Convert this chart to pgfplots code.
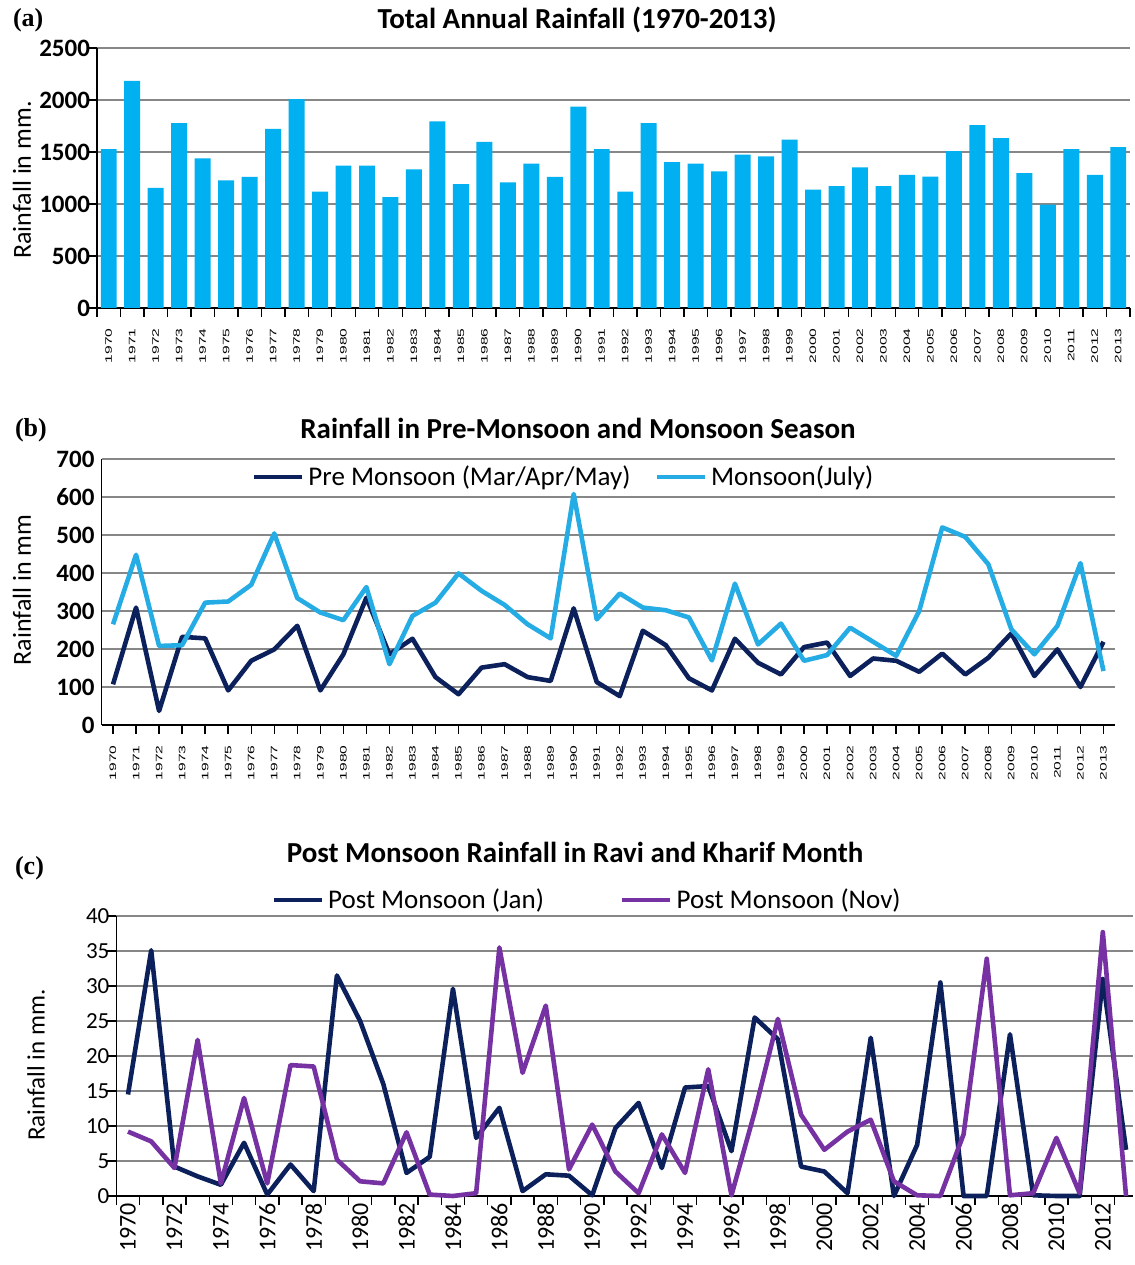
\documentclass[border=0pt]{standalone}
\usepackage{fontspec}
\setmainfont{Carlito}
\newfontfamily\serifb{Liberation Serif}
\newfontfamily\arialf{Liberation Sans}
\usepackage{pgfplots}
\usepackage{pgfplotstable}
\pgfplotsset{compat=1.18}
\definecolor{barblue}{RGB}{0,176,240}
\definecolor{lineblue}{RGB}{38,172,228}
\definecolor{navy}{RGB}{12,33,92}
\definecolor{purp}{RGB}{118,50,162}
\definecolor{gridgray}{RGB}{135,135,135}

\pgfplotstableread{
year val
1970 1528
1971 2183
1972 1154
1973 1777
1974 1439
1975 1228
1976 1260
1977 1723
1978 2008
1979 1119
1980 1368
1981 1368
1982 1065
1983 1333
1984 1794
1985 1192
1986 1598
1987 1208
1988 1387
1989 1260
1990 1937
1991 1528
1992 1119
1993 1777
1994 1403
1995 1387
1996 1314
1997 1474
1998 1458
1999 1618
2000 1138
2001 1173
2002 1352
2003 1173
2004 1279
2005 1263
2006 1509
2007 1758
2008 1634
2009 1298
2010 994
2011 1528
2012 1279
2013 1547
}\dataA

\pgfplotstableread{
year pre mon
1970 107 265
1971 309 448
1972 37 208
1973 232 210
1974 228 322
1975 91 325
1976 169 369
1977 199 504
1978 261 334
1979 91 296
1980 186 276
1981 335 363
1982 186 160
1983 227 287
1984 126 322
1985 81 399
1986 151 353
1987 160 316
1988 126 265
1989 116 228
1990 307 608
1991 113 278
1992 76 346
1993 248 309
1994 210 302
1995 123 283
1996 91 170
1997 227 372
1998 164 212
1999 133 267
2000 205 169
2001 217 184
2002 129 256
2003 175 219
2004 169 182
2005 140 300
2006 188 520
2007 133 495
2008 177 423
2009 241 252
2010 129 186
2011 199 261
2012 100 426
2013 219 142
}\dataB

\pgfplotstableread{
year jan nov
1970 14.5 9.2
1971 35.1 7.8
1972 4.2 4.0
1973 2.8 22.3
1974 1.6 1.8
1975 7.6 14.0
1976 0.2 1.8
1977 4.5 18.7
1978 0.7 18.5
1979 31.5 5.2
1980 25.0 2.1
1981 16.0 1.8
1982 3.3 9.1
1983 5.6 0.2
1984 29.6 0.0
1985 8.3 0.4
1986 12.6 35.5
1987 0.7 17.6
1988 3.1 27.2
1989 2.9 3.8
1990 0.1 10.2
1991 9.7 3.5
1992 13.3 0.4
1993 4.0 8.8
1994 15.5 3.3
1995 15.7 18.1
1996 6.4 0.1
1997 25.5 12.0
1998 22.4 25.3
1999 4.2 11.6
2000 3.5 6.6
2001 0.4 9.2
2002 22.6 10.9
2003 0.0 2.1
2004 7.3 0.1
2005 30.5 0.0
2006 0.0 8.8
2007 0.0 33.9
2008 23.1 0.1
2009 0.1 0.4
2010 0.0 8.3
2011 0.0 0.4
2012 31.0 37.7
2013 6.6 0.0
}\dataC

\pgfplotsset{
  base/.style={
    scale only axis, anchor=south west,
    axis lines*=left,
    axis line style={black, line width=0.9pt},
    ymajorgrids, grid style={gridgray, line width=0.7pt},
    /pgf/number format/assume math mode=true,
    /pgf/number format/1000 sep={},
    tick style={black, line width=0.7pt},
    tick align=outside,
    major tick length=0pt, minor tick length=4.5pt,
    clip=false, xmin=1969.5, xmax=2013.5,
  },
  smallyears/.style={
    xticklabel style={rotate=90, yscale=0.6, anchor=east, inner xsep=10pt, inner ysep=0pt,
      font=\arialf\fontsize{7.8}{7.8}\selectfont},
  },
}

\begin{document}
\begin{tikzpicture}
\useasboundingbox (0,0) rectangle (567.5pt,632.5pt);

% (a)
\begin{axis}[base, smallyears, at={(48.5pt,478.5pt)}, width=516.5pt, height=130pt,
  ymin=0, ymax=2500, ytick={0,500,...,2500}, minor ytick={0,500,...,2500},
  xtick={1970,...,2013}, minor xtick={1969.5,1970.5,...,2013.5},
  yticklabel style={font=\bfseries\fontsize{12.5}{12.5}\selectfont}]
\addplot[ybar, bar width=0.68, fill=barblue, draw=none] table[x=year,y=val] {\dataA};
\end{axis}

% (b)
\begin{axis}[base, smallyears, at={(50.75pt,270pt)}, width=506.75pt, height=133pt,
  ymin=0, ymax=700, ytick={0,100,...,700},
  xtick={1970,...,2013}, minor xtick={1970,...,2013},
  yticklabel style={font=\bfseries\fontsize{12.5}{12.5}\selectfont},
  legend style={at={(0.457,0.932)}, anchor=center, draw=none, fill=none, inner sep=0pt,
    font=\fontsize{13.5}{14}\selectfont, legend columns=2,
    /tikz/every even column/.append style={column sep=10pt}},
  legend cell align=left,
  legend image code/.code={\draw[#1] (0pt,0pt) -- (24pt,0pt);}]
\addplot[navy, line width=2.3pt, line join=round] table[x=year,y=pre] {\dataB};
\addlegendentry{Pre Monsoon (Mar/Apr/May)}
\addplot[lineblue, line width=2.3pt, line join=round] table[x=year,y=mon] {\dataB};
\addlegendentry{Monsoon(July)}
\end{axis}

% (c)
\begin{axis}[base, at={(58.2pt,34.5pt)}, width=508.3pt, height=140pt, xmax=2013.3,
  ymin=0, ymax=40, ytick={0,5,...,40}, minor ytick={0,5,...,40},
  xtick={1970,1972,...,2012}, minor xtick={1969.5,1970.5,...,2012.5},
  xticklabel style={rotate=90, anchor=east, font=\fontsize{12}{12}\selectfont},
  yticklabel style={font=\fontsize{11.5}{12}\selectfont},
  legend style={at={(0.464,1)}, anchor=center, yshift=8pt, draw=none, fill=none, inner sep=0pt,
    font=\fontsize{13.5}{14}\selectfont, legend columns=2,
    /tikz/every even column/.append style={column sep=36pt}},
  legend cell align=left,
  legend image code/.code={\draw[#1] (0pt,0pt) -- (24pt,0pt);}]
\addplot[navy, line width=2.3pt, line join=round] table[x=year,y=jan] {\dataC};
\addlegendentry{Post Monsoon (Jan)}
\addplot[purp, line width=2.3pt, line join=round] table[x=year,y=nov] {\dataC};
\addlegendentry{Post Monsoon (Nov)}
\end{axis}

% titles and labels
\node[font=\bfseries\fontsize{14.5}{15}\selectfont] at (288.5pt,622.5pt) {Total Annual Rainfall (1970-2013)};
\node[font=\bfseries\fontsize{14.5}{15}\selectfont] at (289pt,418.5pt) {Rainfall in Pre-Monsoon and Monsoon Season};
\node[font=\bfseries\fontsize{14.5}{15}\selectfont] at (287.5pt,206.5pt) {Post Monsoon Rainfall in Ravi and Kharif Month};
\node[anchor=west, font=\serifb\bfseries\fontsize{13}{13}\selectfont] at (3pt,622.5pt) {(a)};
\node[anchor=west, font=\serifb\bfseries\fontsize{13}{13}\selectfont] at (4pt,417.5pt) {(b)};
\node[anchor=west, font=\serifb\bfseries\fontsize{13}{13}\selectfont] at (4pt,198.5pt) {(c)};
\node[rotate=90, font=\fontsize{13}{13}\selectfont] at (11pt,542.5pt) {Rainfall in mm.};
\node[rotate=90, font=\fontsize{13}{13}\selectfont] at (11pt,337.5pt) {Rainfall in mm};
\node[rotate=90, font=\fontsize{12.5}{13}\selectfont] at (18pt,100pt) {Rainfall in mm.};
\end{tikzpicture}
\end{document}
